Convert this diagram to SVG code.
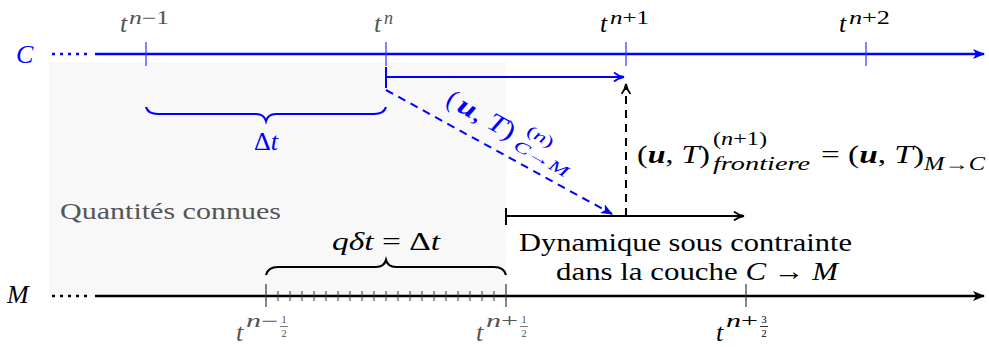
<svg xmlns="http://www.w3.org/2000/svg" width="989" height="347" viewBox="0 0 989 347">
<defs>
<style>
text{font-family:"Liberation Serif","DejaVu Serif",serif;}
.m{font-size:26px;}
.i{font-style:italic;}
.b{font-weight:bold;font-style:italic;}
.g{fill:#555;}
.k{fill:#000;}
.bl{fill:#0000ff;}
.sup{font-size:18px;}
.fr{font-size:11px;text-anchor:middle;}
.ax{stroke-width:2.7;fill:none;}
.tk{stroke-width:1.2;fill:none;}
</style>
<marker id="ab" viewBox="0 0 12 10" refX="11" refY="5" markerWidth="12" markerHeight="10" markerUnits="userSpaceOnUse" orient="auto"><path d="M0,0 L12,5 L0,10 L3,5 Z" fill="#0000ff"/></marker>
<marker id="ak" viewBox="0 0 12 10" refX="11" refY="5" markerWidth="12" markerHeight="10" markerUnits="userSpaceOnUse" orient="auto"><path d="M0,0 L12,5 L0,10 L3,5 Z" fill="#000"/></marker>
<marker id="akh" viewBox="0 0 12 10" refX="11" refY="5" markerWidth="12" markerHeight="10" markerUnits="userSpaceOnUse" orient="auto"><path d="M1,0.5 Q5,4 11,5 Q5,6 1,9.5" fill="none" stroke="#000" stroke-width="1.8"/></marker>
<marker id="abh" viewBox="0 0 12 10" refX="11" refY="5" markerWidth="12" markerHeight="10" markerUnits="userSpaceOnUse" orient="auto"><path d="M1,0.5 Q5,4 11,5 Q5,6 1,9.5" fill="none" stroke="#0000ff" stroke-width="1.8"/></marker>
</defs>
<rect x="49" y="62" width="457" height="234" fill="#f8f8f8"/>
<g id="axisC">
<line x1="52" y1="54" x2="92" y2="54" stroke="#0000ff" stroke-width="2.7" stroke-dasharray="3,5"/>
<line x1="95" y1="54" x2="984" y2="54" stroke="#0000ff" class="ax" marker-end="url(#ab)"/>
<g stroke="#3333ff" class="tk"><line x1="146" y1="42" x2="146" y2="66"/><line x1="386" y1="42" x2="386" y2="66"/><line x1="626" y1="42" x2="626" y2="66"/><line x1="866" y1="42" x2="866" y2="66"/></g>
<text x="16" y="63" class="m i bl">C</text>
</g>
<g id="axisM">
<line x1="52" y1="296" x2="92" y2="296" stroke="#000" stroke-width="2.7" stroke-dasharray="3,5"/>
<line x1="95" y1="296" x2="984" y2="296" stroke="#000" class="ax" marker-end="url(#ak)"/>
<g stroke="#333" class="tk"><line x1="266" y1="284" x2="266" y2="307"/><line x1="506" y1="284" x2="506" y2="307"/><line x1="746" y1="284" x2="746" y2="307"/></g>
<path stroke="#333" stroke-width="1" d="M278,291v10M290,291v10M302,291v10M314,291v10M326,291v10M338,291v10M350,291v10M362,291v10M374,291v10M386,291v10M398,291v10M410,291v10M422,291v10M434,291v10M446,291v10M458,291v10M470,291v10M482,291v10M494,291v10"/>
<text x="7" y="303" class="m i k">M</text>
</g>
<g id="labelsTop">
<text x="120" y="32" class="m i g">t</text><text x="129" y="24" class="sup g" textLength="40" lengthAdjust="spacingAndGlyphs"><tspan class="i">n</tspan>−1</text>
<text x="374" y="32" class="m i g">t</text><text x="384" y="24" class="sup i g">n</text>
<text x="600" y="32" class="m i k">t</text><text x="610" y="24" class="sup k" textLength="39" lengthAdjust="spacingAndGlyphs"><tspan class="i">n</tspan>+1</text>
<text x="839" y="32" class="m i k">t</text><text x="849" y="24" class="sup k" textLength="41" lengthAdjust="spacingAndGlyphs"><tspan class="i">n</tspan>+2</text>
</g>
<g id="labelsBottom">
<text x="236" y="341" class="m i g">t</text><text x="246" y="327" class="sup g" textLength="32" lengthAdjust="spacingAndGlyphs"><tspan class="i">n</tspan>−</text>
<text x="284" y="323" class="fr g">1</text><line x1="280" y1="326.5" x2="288" y2="326.5" stroke="#555" stroke-width="0.8"/><text x="284" y="337" class="fr g">2</text>
<text x="476" y="341" class="m i g">t</text><text x="486" y="327" class="sup g" textLength="32" lengthAdjust="spacingAndGlyphs"><tspan class="i">n</tspan>+</text>
<text x="524" y="323" class="fr g">1</text><line x1="520" y1="326.5" x2="528" y2="326.5" stroke="#555" stroke-width="0.8"/><text x="524" y="337" class="fr g">2</text>
<text x="716" y="341" class="m i k">t</text><text x="726" y="327" class="sup k" textLength="32" lengthAdjust="spacingAndGlyphs"><tspan class="i">n</tspan>+</text>
<text x="764" y="323" class="fr k">3</text><line x1="760" y1="326.5" x2="768" y2="326.5" stroke="#000" stroke-width="0.8"/><text x="764" y="337" class="fr k">2</text>
</g>
<g id="braceC">
<path d="M146,107 Q148,114 158,114 L256,114 Q264,114 266,121 Q268,114 276,114 L374,114 Q384,114 386,107" fill="none" stroke="#0000ff" stroke-width="2.2"/>
<text x="266" y="150" class="m bl" text-anchor="middle">Δ<tspan class="i">t</tspan></text>
</g>
<g id="braceM">
<path d="M266,275 Q268,267 278,267 L376,267 Q384,267 386,260 Q388,267 396,267 L494,267 Q504,267 506,275" fill="none" stroke="#000" stroke-width="2.2"/>
<text x="332" y="250" class="m k" textLength="108" lengthAdjust="spacingAndGlyphs"><tspan class="i">qδt</tspan> = Δ<tspan class="i">t</tspan></text>
</g>
<g id="known"><text x="60" y="219" class="g" font-size="23" textLength="221" lengthAdjust="spacingAndGlyphs">Quantités connues</text></g>
<g id="connectors">
<line x1="386" y1="77" x2="624" y2="77" stroke="#0000ff" stroke-width="2" marker-end="url(#abh)"/>
<line x1="386" y1="67" x2="386" y2="88" stroke="#0000ff" stroke-width="2"/>
<line x1="386" y1="90" x2="612" y2="214" stroke="#0000ff" stroke-width="2" stroke-dasharray="8,6" marker-end="url(#ab)"/>
<line x1="626" y1="216" x2="626" y2="84" stroke="#000" stroke-width="2" stroke-dasharray="8,6" marker-end="url(#akh)"/>
<line x1="506" y1="216" x2="744" y2="216" stroke="#000" stroke-width="2" marker-end="url(#akh)"/>
<line x1="506" y1="208" x2="506" y2="225" stroke="#000" stroke-width="2"/>
</g>
<g id="diagLabel" transform="translate(448,106) rotate(29)">
<text x="-4" y="0" class="m bl">(</text>
<text x="9" y="0" class="m bl" textLength="62" lengthAdjust="spacingAndGlyphs"><tspan class="b">u</tspan>, <tspan class="i">T</tspan>)</text>
<text x="81" y="-13" class="bl" font-size="16" textLength="29" lengthAdjust="spacingAndGlyphs">(<tspan class="i">n</tspan>)</text>
<text x="77" y="6" class="bl" font-size="16" textLength="60" lengthAdjust="spacingAndGlyphs"><tspan class="i">C</tspan>→<tspan class="i">M</tspan></text>
</g>
<g id="dyn">
<text x="519" y="251" class="m k" textLength="333" lengthAdjust="spacingAndGlyphs">Dynamique sous contrainte</text>
<text x="556" y="280" class="m k" textLength="282" lengthAdjust="spacingAndGlyphs">dans la couche <tspan class="i">C</tspan> → <tspan class="i">M</tspan></text>
</g>
<g id="eq">
<text x="637" y="163" class="m k" textLength="73" lengthAdjust="spacingAndGlyphs">(<tspan class="b">u</tspan>, <tspan class="i">T</tspan>)</text>
<text x="713" y="145" class="sup k" textLength="54" lengthAdjust="spacingAndGlyphs">(<tspan class="i">n</tspan>+1)</text>
<text x="713" y="170" class="sup i k" textLength="97" lengthAdjust="spacingAndGlyphs">frontiere</text>
<text x="821" y="163" class="m k" textLength="103" lengthAdjust="spacingAndGlyphs">= (<tspan class="b">u</tspan>, <tspan class="i">T</tspan>)</text>
<text x="924" y="170" class="sup k" textLength="61" lengthAdjust="spacingAndGlyphs"><tspan class="i">M</tspan>→<tspan class="i">C</tspan></text>
</g>
</svg>
